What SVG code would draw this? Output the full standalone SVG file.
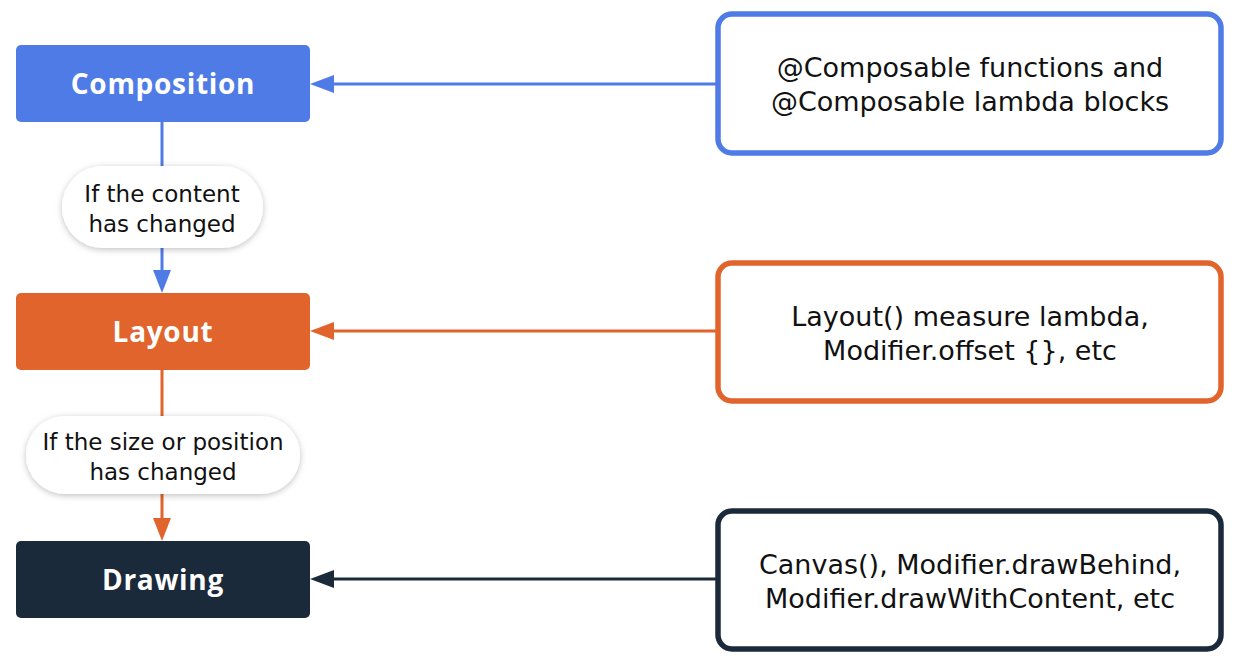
<svg xmlns="http://www.w3.org/2000/svg" width="1242" height="668" viewBox="0 0 1242 668">
<defs>
<style>
.stage{font-family:"Open Sans","Liberation Sans",sans-serif;font-weight:700;font-size:28px;letter-spacing:0.7px;fill:#ffffff;text-anchor:middle}
.desc{font-family:"DejaVu Sans","Liberation Sans",sans-serif;font-size:27px;fill:#111111;text-anchor:middle}
.pill{font-family:"DejaVu Sans","Liberation Sans",sans-serif;font-size:23px;fill:#111111;text-anchor:middle}
.box{fill:#ffffff;stroke-width:5.5}
</style>
<filter id="sh" x="-20%" y="-30%" width="140%" height="160%">
<feDropShadow dx="0" dy="1.5" stdDeviation="3" flood-color="#000000" flood-opacity="0.25"/>
</filter>
</defs>
<rect width="1242" height="668" fill="#ffffff"/>

<g id="connectors">
<line x1="717" y1="84" x2="330" y2="84" stroke="#4f7be6" stroke-width="3"/>
<polygon points="310,84 334,75 334,93" fill="#4f7be6"/>
<line x1="162" y1="122" x2="162" y2="274" stroke="#4f7be6" stroke-width="3"/>
<polygon points="162,293 153,270 171,270" fill="#4f7be6"/>

<line x1="717" y1="331" x2="330" y2="331" stroke="#e0642c" stroke-width="3"/>
<polygon points="310,331 334,322 334,340" fill="#e0642c"/>
<line x1="162" y1="370" x2="162" y2="522" stroke="#e0642c" stroke-width="3"/>
<polygon points="162,541 153,518 171,518" fill="#e0642c"/>

<line x1="717" y1="579" x2="330" y2="579" stroke="#1b2a3a" stroke-width="3"/>
<polygon points="310,579 334,570 334,588" fill="#1b2a3a"/>
</g>

<g id="composition">
<rect x="16" y="45" width="294" height="77" rx="5" fill="#4f7be6"/>
<text class="stage" x="163" y="94">Composition</text>
</g>
<g id="layout">
<rect x="16" y="293" width="294" height="77" rx="5" fill="#e0642c"/>
<text class="stage" x="163" y="342">Layout</text>
</g>
<g id="drawing">
<rect x="16" y="541" width="294" height="77" rx="5" fill="#1b2a3a"/>
<text class="stage" x="163" y="590">Drawing</text>
</g>

<g id="label-content">
<rect x="62" y="166" width="201" height="82" rx="41" fill="#ffffff" filter="url(#sh)"/>
<text class="pill" x="162" y="202">If the content</text>
<text class="pill" x="162" y="232">has changed</text>
</g>
<g id="label-size">
<rect x="26" y="416" width="274" height="78" rx="39" fill="#ffffff" filter="url(#sh)"/>
<text class="pill" x="163" y="450">If the size or position</text>
<text class="pill" x="163" y="480">has changed</text>
</g>

<g id="composable-src">
<rect class="box" x="718" y="14" width="503" height="139" rx="14" stroke="#4f7be6"/>
<text class="desc" x="970" y="77">@Composable functions and</text>
<text class="desc" x="970" y="111">@Composable lambda blocks</text>
</g>
<g id="layout-src">
<rect class="box" x="718" y="263" width="503" height="138" rx="14" stroke="#e0642c"/>
<text class="desc" x="970" y="326">Layout() measure lambda,</text>
<text class="desc" x="970" y="360">Modifier.offset {}, etc</text>
</g>
<g id="drawing-src">
<rect class="box" x="718" y="511" width="503" height="138" rx="14" stroke="#1b2a3a"/>
<text class="desc" x="970" y="574">Canvas(), Modifier.drawBehind,</text>
<text class="desc" x="970" y="608">Modifier.drawWithContent, etc</text>
</g>
</svg>
